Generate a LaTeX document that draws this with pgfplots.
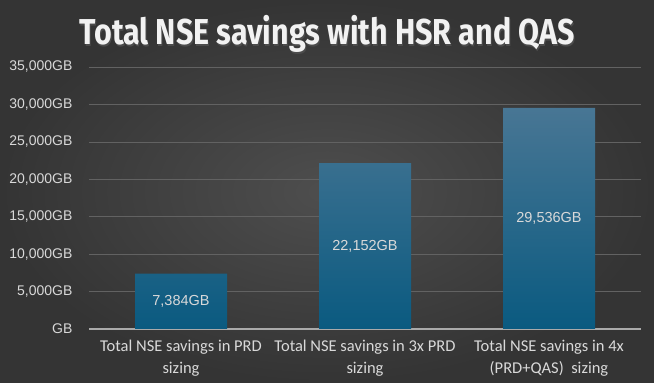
\documentclass[border=0pt]{standalone}
\usepackage{pgfplots}
\pgfplotsset{compat=1.18}
\usepackage{fontspec}
\setmainfont{Liberation Sans}
\newfontfamily\catfont{Carlito}
\newfontfamily\titlefont{Fira Sans}
\definecolor{bgin}{RGB}{78,78,78}
\definecolor{bgout}{RGB}{52,52,52}
\definecolor{bartop}{RGB}{72,118,148}
\definecolor{barbot}{RGB}{10,90,128}
\definecolor{txt}{RGB}{217,217,217}
\definecolor{gridc}{RGB}{98,98,98}
\definecolor{basec}{RGB}{170,170,170}
\begin{document}
\begin{tikzpicture}[x=1pt,y=1pt]
\useasboundingbox (0,0) rectangle (654,383);
\shade[inner color=bgin, outer color=bgout] (0,0) rectangle (654,383);
\node[text=black!70, anchor=base] at (328,336.5) {\resizebox{495pt}{\height}{\titlefont\bfseries\fontsize{36}{40}\selectfont Total NSE savings with HSR and QAS}};
\node[text=white!95!black, anchor=base] at (327,338) {\resizebox{495pt}{\height}{\titlefont\bfseries\fontsize{36}{40}\selectfont Total NSE savings with HSR and QAS}};
\begin{axis}[
  at={(89pt,54pt)}, anchor=south west,
  scale only axis, width=552pt, height=262pt,
  xmin=-0.5, xmax=2.5, ymin=0, ymax=35000,
  scaled y ticks=false,
  axis line style={draw=none},
  major tick length=0pt,
  xtick=data,
  xticklabels={{Total NSE savings in PRD\\sizing},{Total NSE savings in 3x PRD\\sizing},{Total NSE savings in 4x\\(PRD+QAS)\ \ sizing}},
  x tick label style={font=\catfont\fontsize{16.5}{22}\selectfont, text=txt, align=center, yshift=-8pt},
  ytick={0,5000,10000,15000,20000,25000,30000,35000},
  yticklabels={GB,{5,000GB},{10,000GB},{15,000GB},{20,000GB},{25,000GB},{30,000GB},{35,000GB}},
  y tick label style={font=\fontsize{14}{16}\selectfont, text=txt, xshift=-13pt},
  ymajorgrids, grid style={draw=gridc, line width=0.7pt},
  extra y ticks={0}, extra y tick labels={},
  extra y tick style={grid style={draw=basec, line width=1.6pt}},
  /pgf/number format/assume math mode=true,
  bar width=92pt,
  nodes near coords={\pgfmathprintnumber[fixed,precision=0,1000 sep={,}]{\pgfplotspointmeta}GB},
  point meta=rawy,
  visualization depends on={rawy*262/35000*0.5 \as \hh},
  every node near coord/.append style={font=\fontsize{14.5}{16}\selectfont, text=txt, anchor=center, yshift=-\hh pt},
]
\addplot[ybar, draw=none, top color=bartop, bottom color=barbot] coordinates {(0,7384) (1,22152) (2,29536)};
\end{axis}
\end{tikzpicture}
\end{document}
